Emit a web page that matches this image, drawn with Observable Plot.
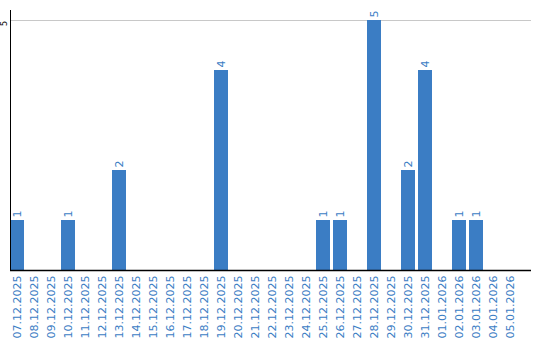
<!DOCTYPE html>
<html>
<head>
<meta charset="utf-8">
<script src="https://cdn.jsdelivr.net/npm/d3@7"></script>
<script src="https://cdn.jsdelivr.net/npm/@observablehq/plot@0.6"></script>
<style>
  html, body { margin: 0; padding: 0; background: #fff; }
  #chart svg { display: block; }
</style>
</head>
<body>
<div id="chart"></div>
<script>
const dates = [
  "07.12.2025","08.12.2025","09.12.2025","10.12.2025","11.12.2025","12.12.2025",
  "13.12.2025","14.12.2025","15.12.2025","16.12.2025","17.12.2025","18.12.2025",
  "19.12.2025","20.12.2025","21.12.2025","22.12.2025","23.12.2025","24.12.2025",
  "25.12.2025","26.12.2025","27.12.2025","28.12.2025","29.12.2025","30.12.2025",
  "31.12.2025","01.01.2026","02.01.2026","03.01.2026","04.01.2026","05.01.2026"
];
const counts = [1,0,0,1,0,0, 2,0,0,0,0,0, 4,0,0,0,0,0, 1,1,0,5,0,2, 4,0,1,1,0,0];
const yTicks = [5];

const data = dates.map((d, i) => ({date: d, count: counts[i]}));
const labeled = data.filter(d => d.count > 0);
const blue = "#3b7dc4";

const chart = Plot.plot({
  width: 540,
  height: 340,
  marginLeft: 10,
  marginRight: 9,
  marginTop: 10,
  marginBottom: 70,
  style: {fontFamily: "DejaVu Sans", background: "#fff"},
  x: {type: "band", domain: dates, range: [10, 517], paddingInner: 3/17, paddingOuter: 0, align: 0, axis: null, label: null},
  y: {domain: [0, 5.2], axis: null, label: null},
  marks: [
    Plot.ruleY(yTicks, {stroke: "#c8c8c8", strokeWidth: 1}),
    Plot.barY(data, {x: "date", y: "count", fill: blue}),
    Plot.text(labeled, {x: "date", y: "count", text: d => String(d.count), rotate: -90, textAnchor: "start", dy: -3, fill: blue, fontSize: 11}),
    Plot.axisX({tickSize: 0, tickRotate: -90, tickPadding: 5, fontSize: 11, fill: blue, label: null}),
    Plot.text(yTicks, {y: d => d, text: d => String(d), frameAnchor: "left", dx: -6, dy: 3, rotate: -90, textAnchor: "middle", fontSize: 8, fill: "#000"}),
    Plot.frame({anchor: "left", stroke: "#000"}),
    Plot.ruleY([0], {stroke: "#000", strokeWidth: 1.5})
  ]
});
document.getElementById("chart").appendChild(chart);
</script>
</body>
</html>
